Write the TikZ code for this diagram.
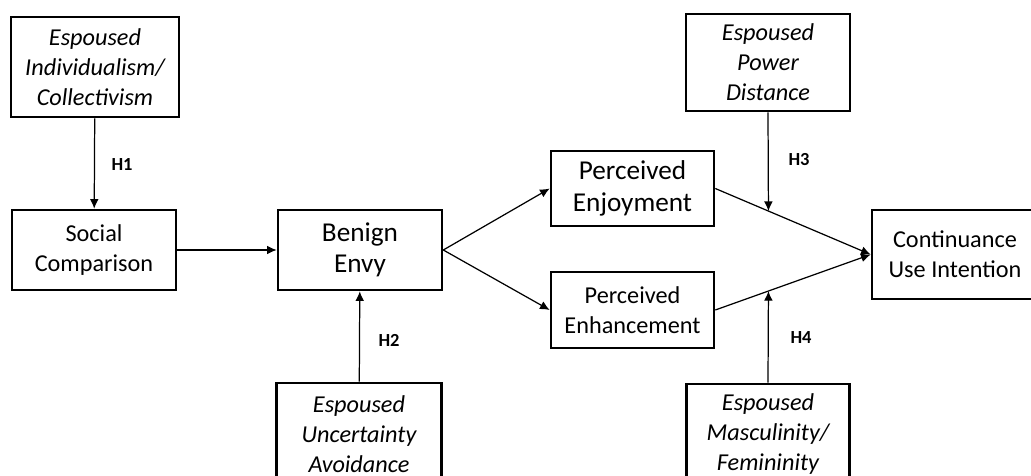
\documentclass[tikz,border=0pt]{standalone}
\usepackage{fontspec}
\setmainfont{Carlito}
\usetikzlibrary{arrows.meta,calc}
\tikzset{
  box/.style={draw, line width=1.5pt, inner sep=0pt, align=center, font=\fontsize{13.8}{17}\selectfont},
  bigbox/.style={box, font=\fontsize{15.5}{18}\selectfont},
  modbox/.style={box, font=\fontsize{13.8}{17}\selectfont\itshape},
  hyp/.style={font=\fontsize{10.5}{12}\selectfont\bfseries},
  link/.style={-{Latex[length=5.5pt,width=5pt]}, line width=0.7pt}
}
\begin{document}
\begin{tikzpicture}[x=0.02cm,y=-0.02cm]
    \useasboundingbox (0,0) rectangle (1031,476);
    \clip (0,0) rectangle (1031,476);
    % moderators
    \node[modbox, minimum width=3.36cm, minimum height=2cm] (ic) at (95,67) {Espoused\\Individualism/\\Collectivism};
    \node[modbox, minimum width=3.28cm, minimum height=1.94cm] (pd) at (768,62.5) {Espoused\\Power\\Distance};
    \node[modbox, minimum width=3.3cm, minimum height=2.04cm] (ua) at (359,434) {Espoused\\Uncertainty\\Avoidance};
    \node[modbox, minimum width=3.26cm, minimum height=2cm] (mf) at (768,434) {Espoused\\Masculinity/\\Femininity};
    % constructs
    \node[box, minimum width=3.28cm, minimum height=1.6cm] (sc) at (94,250) {Social\\Comparison};
    \node[bigbox, minimum width=3.28cm, minimum height=1.6cm] (be) at (360,250) {Benign\\Envy};
    \node[bigbox, minimum width=3.26cm, minimum height=1.5cm] (pj) at (632.5,188.5) {Perceived\\Enjoyment};
    \node[box, minimum width=3.26cm, minimum height=1.52cm] (ph) at (632.5,310) {Perceived\\Enhancement};
    \node[box, minimum width=3.32cm, minimum height=1.78cm] (cu) at (955,254.5) {Continuance\\Use Intention};
    % paths
    \draw[link] (sc) -- (be);
    \draw[link] (be.east) -- (pj.west);
    \draw[link] (be.east) -- (ph.west);
    \draw[link] (pj.east) -- (cu.west);
    \draw[link] (ph.east) -- (cu.west);
    \coordinate (m3) at ($(pj.east)!0.342!(cu.west)$);
    \coordinate (m4) at ($(ph.east)!0.342!(cu.west)$);
    \draw[link] (ic) -- (sc);
    \draw[link] (ua) -- (be);
    \draw[link] (pd.south) -- (m3);
    \draw[link] (mf.north) -- (m4);
    % hypotheses
    \node[hyp] (h1) at (122,165) {H1};
    \node[hyp] (h2) at (389,340) {H2};
    \node[hyp] (h3) at (799,160) {H3};
    \node[hyp] (h4) at (801,338) {H4};
\end{tikzpicture}
\end{document}
